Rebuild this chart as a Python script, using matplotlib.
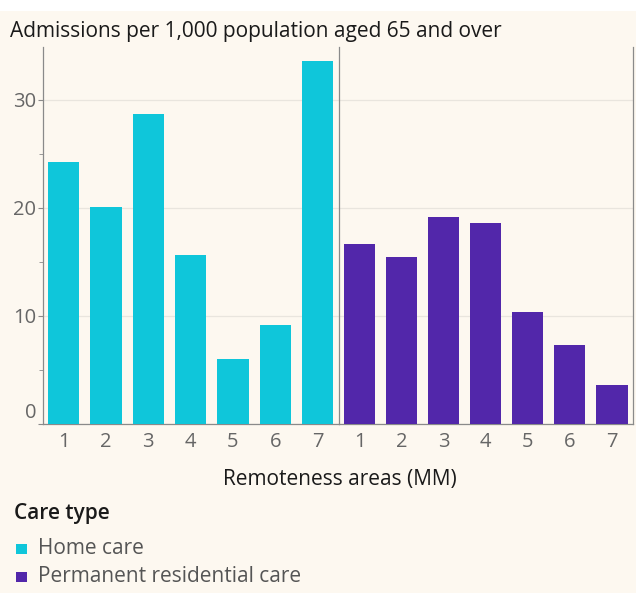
import matplotlib
matplotlib.use("Agg")
import matplotlib.pyplot as plt
from matplotlib.patches import Rectangle
from matplotlib.transforms import ScaledTranslation

plt.rcParams["font.family"] = ["Open Sans", "DejaVu Sans"]

AREAS = ["1", "2", "3", "4", "5", "6", "7"]
HOME_CARE = [24.3, 20.1, 28.7, 15.6, 6.0, 9.2, 33.6]
RESIDENTIAL = [16.7, 15.5, 19.2, 18.6, 10.4, 7.3, 3.6]
CARE_TYPES = ["Home care", "Permanent residential care"]
COLORS = ["#0FC6DA", "#5227AA"]

BG = "#FDF8F0"
GRID = "#E9E5DE"
AXIS = "#8A8A8A"
TICK_TEXT = "#666666"
W, H = 636, 593


def fx(px):
    return px / W


def fy(py):
    return 1 - py / H


fig = plt.figure(figsize=(W / 100, H / 100), dpi=100, facecolor="white")
fig.patches.append(Rectangle((0, 0), 1, fy(11), transform=fig.transFigure,
                             facecolor=BG, edgecolor="none", zorder=-10))

left, mid, right = fx(42.6), fx(338.7), fx(633)
bottom, top = fy(424), fy(47)
ax1 = fig.add_axes([left, bottom, mid - left, top - bottom])
ax2 = fig.add_axes([mid, bottom, right - mid, top - bottom], sharey=ax1)

x = list(range(len(AREAS)))
for ax, vals, col in [(ax1, HOME_CARE, COLORS[0]), (ax2, RESIDENTIAL, COLORS[1])]:
    ax.set_facecolor(BG)
    ax.bar(x, vals, width=0.74, color=col, zorder=3)
    ax.set_xlim(-0.5, 6.5)
    ax.set_xticks(x)
    ax.set_xticklabels(AREAS)
    ax.tick_params(axis="x", length=0, labelsize=14.5, labelcolor=TICK_TEXT, pad=6)
    ax.grid(axis="y", color=GRID, linewidth=0.9, zorder=0)
    ax.spines["top"].set_visible(False)
    for s in ["left", "right", "bottom"]:
        ax.spines[s].set_color(AXIS)
        ax.spines[s].set_linewidth(0.9)

ax1.spines["right"].set_visible(False)
ax1.set_ylim(0, 34.9)
ax1.set_yticks([0, 10, 20, 30])
ax1.set_yticks([5, 15, 25], minor=True)
ax1.tick_params(axis="y", length=3.5, color=AXIS, labelsize=14.5, labelcolor=TICK_TEXT, pad=1)
ax1.tick_params(axis="y", which="minor", length=3, color=AXIS)
ax2.tick_params(axis="y", which="both", left=False, labelleft=False)

# the zero label sits a bit above the baseline
zero_lbl = ax1.get_yticklabels()[0]
zero_lbl.set_transform(zero_lbl.get_transform() + ScaledTranslation(0, 13 / 100, fig.dpi_scale_trans))

fig.text(fx(10), fy(31), "Admissions per 1,000 population aged 65 and over",
         fontsize=15, color="#1a1a1a", va="center", ha="left")
fig.text(fx(340), fy(479), "Remoteness areas (MM)",
         fontsize=15, color="#1a1a1a", va="center", ha="center")

# legend
fig.text(fx(14), fy(513), "Care type", fontsize=15, fontweight="semibold",
         color="#1a1a1a", va="center", ha="left")
for i, (name, col) in enumerate(zip(CARE_TYPES, COLORS)):
    yc = 549 + 28 * i
    fig.patches.append(Rectangle((fx(16), fy(yc + 5)), fx(10.5), 10.5 / H,
                                 transform=fig.transFigure, facecolor=col, edgecolor="none"))
    fig.text(fx(38), fy(yc), name, fontsize=15, color="#555555", va="center", ha="left")

fig.savefig("out.png", dpi=100, facecolor=fig.get_facecolor())
